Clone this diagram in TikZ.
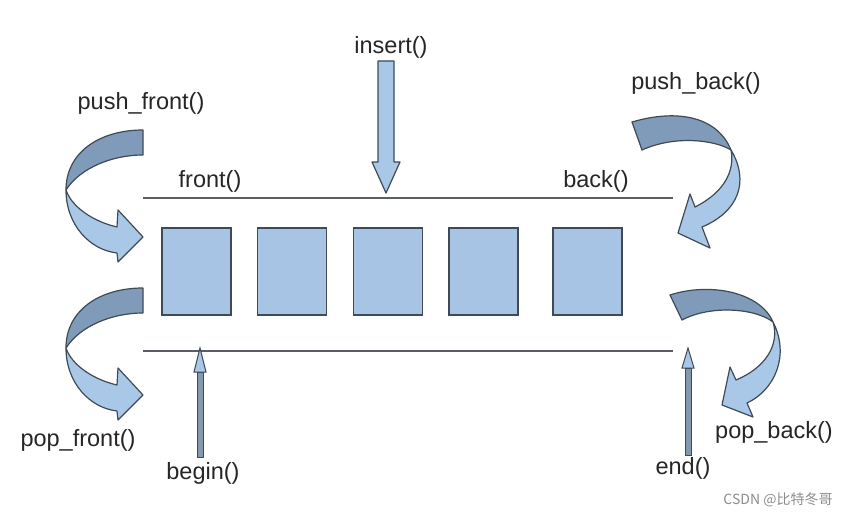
\documentclass[tikz,border=0pt]{standalone}
\usepackage{fontspec}
\setmainfont{Liberation Sans}
\newfontfamily\cjkfont{Noto Sans CJK SC}
\definecolor{boxfill}{HTML}{A7C4E5}
\definecolor{lightrib}{HTML}{A9C8E8}
\definecolor{darkrib}{HTML}{7F9BB9}
\definecolor{edge}{HTML}{3E4A56}
\definecolor{linegray}{HTML}{5A5F66}
\definecolor{shaftgray}{HTML}{8599AE}
\tikzset{
  cell/.style={draw=edge, line width=1.4pt, fill=boxfill, minimum width=69pt, minimum height=87pt, inner sep=0pt},
  lbl/.style={font=\fontsize{23.5}{25}\selectfont, text=black!85, inner sep=0pt},
  rail/.style={draw=linegray, line width=1.8pt},
  ribdark/.style={fill=darkrib, draw=edge, line width=1.2pt, line join=round},
  riblight/.style={fill=lightrib, draw=edge, line width=1.2pt, line join=round},
  ptr/.style={draw=edge, line width=1pt, fill=lightrib}
}
\begin{document}
\begin{tikzpicture}[x=1pt,y=-1pt]
\useasboundingbox (0,0) rectangle (848,518);
% rails
\coordinate (tl) at (143,198);
\coordinate (tr) at (673,198);
\coordinate (bl) at (143,351);
\coordinate (br) at (673,351);
\draw[rail] (tl) -- (tr);
\draw[rail] (bl) -- (br);
% cells
\node[cell] (c1) at (196.5,271.5) {};
\node[cell] (c2) at (292,271.5) {};
\node[cell] (c3) at (388,271.5) {};
\node[cell] (c4) at (483.5,271.5) {};
\node[cell] (c5) at (587.5,271.5) {};
% labels
\node[lbl] (front) at (210,181) {front()};
\node[lbl] (back) at (596,181) {back()};
\node[lbl] (insert) at (391,47) {insert()};
\node[lbl] (pushf) at (141,103) {push\_front()};
\node[lbl] (pushb) at (696,83) {push\_back()};
\node[lbl] (popf) at (78,440) {pop\_front()};
\node[lbl] (popb) at (774,432) {pop\_back()};
\node[lbl] (begin) at (203,473) {begin()};
\node[lbl] (end) at (683,468) {end()};
\node[font=\cjkfont\fontsize{14}{16}\selectfont, text=black!45, inner sep=0pt] (mark) at (778,500) {CSDN @比特冬哥};
% insert block arrow
\draw[ptr, line width=1.2pt, line join=round] (378,61) -- (394,61) -- (394,162) -- (400,162) -- (386,193) -- (372,162) -- (378,162) -- cycle;
% begin / end pointers
\coordinate (bs) at (200,457);
\coordinate (bt) at (200,348);
\coordinate (es) at (688,455);
\coordinate (et) at (688,348);
\fill[shaftgray, draw=edge, line width=0.6pt] (197,372) rectangle (203,457);
\draw[ptr] (194,372) -- (bt) -- (206,372) -- cycle;
\fill[shaftgray, draw=edge, line width=0.6pt] (685,368) rectangle (691,455);
\draw[ptr] (682,368) -- (et) -- (694,368) -- cycle;
% push_front / pop_front ribbons
\foreach \dy in {0,158}{
\begin{scope}[shift={(0,\dy)}]
\path[ribdark] (143,130) .. controls (100,130) and (66,152) .. (66,190)
   .. controls (80,168) and (112,155) .. (143,155) -- cycle;
\path[riblight] (66,190) .. controls (66,225) and (90,250) .. (117,253)
   -- (118,262) -- (143,237) -- (118,210) -- (117,227)
   .. controls (95,222) and (72,208) .. (66,190) -- cycle;
\end{scope}}
% push_back ribbon
\path[ribdark] (632,122) .. controls (680,108) and (718,118) .. (731,150)
   .. controls (715,140) and (675,135) .. (642,150) -- cycle;
\path[riblight] (731,150) .. controls (750,182) and (738,212) .. (702,227)
   -- (710,248) -- (678,233) -- (690,194) -- (695,207)
   .. controls (725,192) and (735,170) .. (731,150) -- cycle;
% pop_back ribbon
\path[ribdark] (670,295) .. controls (710,282) and (760,292) .. (773,322)
   .. controls (755,308) and (710,305) .. (682,320) -- cycle;
\path[riblight] (773,322) .. controls (790,355) and (775,390) .. (747,403)
   -- (753,417) -- (722,405) -- (730,367) -- (736,380)
   .. controls (765,368) and (780,345) .. (773,322) -- cycle;
\end{tikzpicture}
\end{document}
